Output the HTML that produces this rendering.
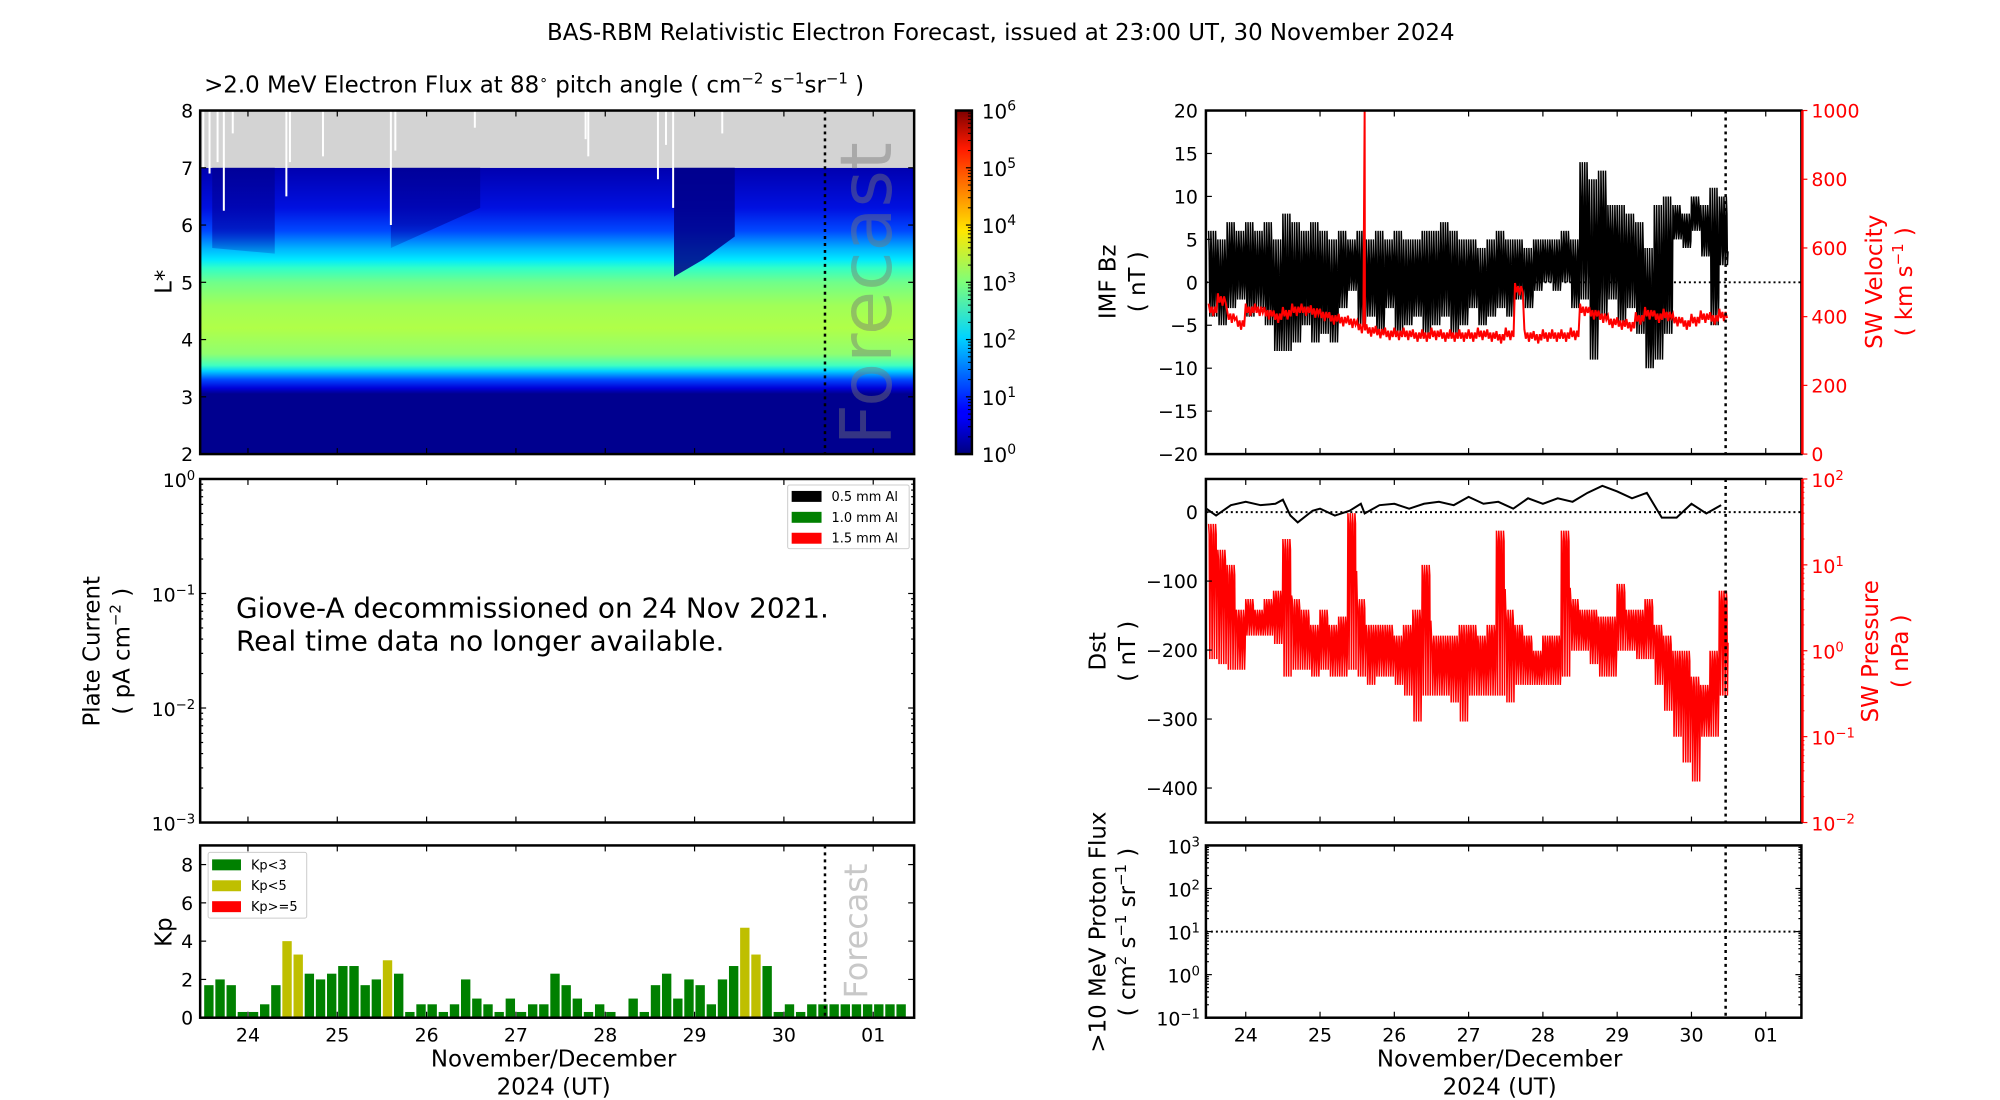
<!DOCTYPE html>
<html><head><meta charset="utf-8">
<style>
html,body{margin:0;padding:0;background:#fff;}
svg{display:block;font-family:"DejaVu Sans","Liberation Sans",sans-serif;}
</style></head>
<body>
<svg id="chart" xmlns="http://www.w3.org/2000/svg" width="2000" height="1100" viewBox="0 0 2000 1100">
<defs>
<linearGradient id="jet" x1="0" y1="1" x2="0" y2="0">
<stop offset="0" stop-color="#00007f"/><stop offset="0.11" stop-color="#0000ff"/>
<stop offset="0.125" stop-color="#0000ff"/><stop offset="0.34" stop-color="#00d4ff"/>
<stop offset="0.5" stop-color="#7dff7a"/><stop offset="0.65" stop-color="#ffe600"/>
<stop offset="0.89" stop-color="#ff1a00"/><stop offset="1" stop-color="#7f0000"/>
</linearGradient>
<clipPath id="clipHeat"><rect x="201" y="111" width="717" height="345"/></clipPath>
<clipPath id="clipBz"><rect x="1211" y="111" width="598" height="345"/></clipPath>
<clipPath id="clipDst"><rect x="1211" y="481" width="598" height="345"/></clipPath>
</defs>
<g transform="scale(0.9958)">
<text x="1005" y="40" font-size="23" text-anchor="middle">BAS-RBM Relativistic Electron Forecast, issued at 23:00 UT, 30 November 2024</text>
<text x="205" y="93" font-size="23">&gt;2.0 MeV Electron Flux at 88<tspan baseline-shift="super" font-size="14">∘</tspan> pitch angle ( cm<tspan baseline-shift="super" font-size="15">−2</tspan> s<tspan baseline-shift="super" font-size="15">−1</tspan>sr<tspan baseline-shift="super" font-size="15">−1</tspan> )</text>
<g id="g"></g>
</g>
</svg>
<script>
// ---------- data ----------
const kpValues=[1.7,2.0,1.7,0.3,0.3,0.7,1.7,4.0,3.3,2.3,2.0,2.3,2.7,2.7,1.7,2.0,3.0,2.3,0.3,0.7,0.7,0.3,0.7,2.0,1.0,0.7,0.3,1.0,0.3,0.7,0.7,2.3,1.7,1.0,0.3,0.7,0.3,0,1.0,0.3,1.7,2.3,1.0,2.0,1.7,0.7,2.0,2.7,4.7,3.3,2.7,0.3,0.7,0.3,0.7,0.7,0.7,0.7,0.7,0.7,0.7,0.7,0.7];
const kpStartDay=23.5;
const dayTicks=[24,25,26,27,28,29,30,31];
const dayTickLabels=["24","25","26","27","28","29","30","01"];
const forecastDay=30.46;
const slotStart=23.5;
const bzHi=[6,5,7,6, 7,6,7,5,8,7,6,7, 6,5,6,5,6,5,6,5, 6,5,5,6,6,7,6,5, 5,4,5,6,5,5,4,5, 5,5,6,5,14,12,13,9, 9,8,7,4,9,10,9,8, 10,9,11,10];
const bzLo=[-4,-5,-3,-2, -4,-3,-5,-8,-8,-7,-5,-7, -6,-7,-3,-1,-5,-4,-6,-3, -6,-5,-4,-6,-5,-4,-6,-5, -3,-5,-4,-3,-4,-2,-3,-1, 0,-1,0,-3,-2,-9,-4,-2, -5,-3,-6,-10,-9,-6,5,4, 6,3,-5,2];
const velMid=[420,450,400,380, 420,420,410,400,410,420,420,415, 405,395,390,385,370,360,355,350, 350,350,345,345,350,345,345,345, 345,350,345,340,350,480,345,340, 345,345,345,350,420,410,400,385, 380,375,395,410,400,405,390,380, 390,400,395,405];
const velSpikeDay=25.6, velSpikeVal=1000;
const dstDays=[23.47,23.6,23.8,24.0,24.2,24.4,24.5,24.6,24.7,24.9,25.0,25.2,25.4,25.55,25.6,25.8,26.0,26.2,26.4,26.6,26.8,27.0,27.2,27.4,27.6,27.8,28.0,28.2,28.4,28.6,28.8,29.0,29.2,29.4,29.6,29.8,30.0,30.2,30.4];
const dstVals=[5,-5,10,15,10,12,18,-5,-15,2,5,-5,2,12,-2,10,12,5,12,15,10,22,12,15,5,20,12,20,15,28,38,30,20,28,-8,-8,12,-2,10];
const presHi=[30,15,10,3, 4,3,4,5,20,4,3,2, 3,2,2.5,40,4,2,2,2, 1.5,2,3,10,1.5,1.5,1.5,2, 2,1.5,2,25,3,2,1.5,1, 1.5,1.5,25,4,3,3,2.5,2.5, 6,3,3,4,2,1.5,1,1, 0.5,0.4,1,5];
const presLo=[0.8,0.7,0.6,0.6, 1.5,1.5,1.5,1.2,0.5,0.6,0.6,0.5, 0.6,0.5,0.5,0.6,0.5,0.4,0.5,0.5, 0.4,0.3,0.15,0.3,0.3,0.3,0.25,0.15, 0.3,0.3,0.3,0.3,0.25,0.4,0.4,0.4, 0.4,0.4,0.5,1,1,0.7,0.5,0.5, 1,1,0.8,0.8,0.4,0.2,0.1,0.05, 0.03,0.1,0.1,0.3];
const streakDays=[23.5,23.57,23.66,23.73,23.83,24.43,24.47,24.84,25.6,25.65,26.54,27.78,27.81,28.59,28.68,28.76,29.31];
const streakBottomL=[7.0,6.9,7.1,6.25,7.6,6.5,7.1,7.2,6.0,7.3,7.7,7.5,7.2,6.8,7.4,6.3,7.6];

// ---------- axis functions ----------
const xL=d=>249+(d-24)*89.7;
const xR=d=>1251+(d-24)*74.6;
const yL=L=>111+(8-L)/6*345;
const yBz=v=>111+(20-v)/40*345;
const yVel=v=>456-v/1000*345;
const yDst=v=>481+(48-v)/498*345;
const yPres=p=>481+(2-Math.log10(p))/4*345;
const yKp=v=>1022-v/9*173;
const yProt=p=>849+(3-Math.log10(p))/4*173;
const yPlate=p=>481+(0-Math.log10(p))/3*345;
const yCb=e=>456-e/6*345;

const NS="http://www.w3.org/2000/svg";
const root=document.getElementById('g');
function mk(tag,attrs,parent){const e=document.createElementNS(NS,tag);for(const k in attrs)e.setAttribute(k,attrs[k]);(parent||root).appendChild(e);return e;}
function txt(x,y,s,size,anchor,fill,parent){const t=mk('text',{x:x,y:y,'font-size':size,'text-anchor':anchor||'middle',fill:fill||'#000'},parent);t.textContent=s;return t;}
function pow10(x,y,exp,size,anchor,fill){const t=mk('text',{x:x,y:y,'font-size':size,'text-anchor':anchor,fill:fill||'#000'});t.appendChild(document.createTextNode('10'));const s=document.createElementNS(NS,'tspan');s.setAttribute('baseline-shift','super');s.setAttribute('font-size',size*0.7);s.textContent=exp;t.appendChild(s);return t;}

// ---------- heatmap ----------
const hg=mk('g',{'clip-path':'url(#clipHeat)'});


const heatStops=[[2,'#00008f'],[3.05,'#00008f'],[3.15,'#0000d8'],[3.3,'#0048ff'],[3.45,'#00d0ff'],[3.55,'#40ffc0'],[3.75,'#90ff70'],[4.2,'#b0ff48'],[4.6,'#a0ff58'],[5.0,'#70ff8a'],[5.25,'#30ffc8'],[5.4,'#00e8ff'],[5.6,'#00b0ff'],[5.9,'#0048ff'],[6.3,'#0010e0'],[7.0,'#0000b0']];
const defs=document.querySelector('defs');
const lg=mk('linearGradient',{id:'heatGrad',x1:0,y1:yL(2),x2:0,y2:yL(7),gradientUnits:'userSpaceOnUse'},defs);
heatStops.forEach(s=>mk('stop',{offset:(s[0]-2)/5,'stop-color':s[1]},lg));
const pg=mk('linearGradient',{id:'pocketGrad',x1:0,y1:1,x2:0,y2:0},defs);
mk('stop',{offset:0,'stop-color':'#0000a0','stop-opacity':0.2},pg);
mk('stop',{offset:0.3,'stop-color':'#0000a0','stop-opacity':0.6},pg);
mk('stop',{offset:1,'stop-color':'#000090','stop-opacity':0.7},pg);
mk('rect',{x:201,y:yL(7),width:717,height:yL(2)-yL(7),fill:'url(#heatGrad)'},hg);
mk('rect',{x:201,y:yL(8),width:717,height:yL(7)-yL(8),fill:'#d3d3d3'},hg);
const pockets=[[[23.6,5.6],[24.3,5.5],[24.3,7],[23.6,7]],[[25.6,5.6],[26.6,6.3],[26.6,7],[25.6,7]],[[28.77,5.1],[29.1,5.4],[29.45,5.8],[29.45,7],[28.77,7]]];
pockets.forEach((p,i)=>{const e=mk('polygon',{points:p.map(q=>xL(q[0])+','+yL(q[1])).join(' '),fill:i==2?'#000088':'url(#pocketGrad)',opacity:i==2?0.85:1},hg);

});
streakDays.forEach((d,i)=>{const e=mk('line',{x1:xL(d),x2:xL(d),y1:yL(8),y2:yL(streakBottomL[i]),stroke:'#fff','stroke-width':2},hg);

});
const fc=mk('text',{x:0,y:0,'font-size':72,fill:'#777',opacity:0.45,'text-anchor':'middle',transform:'translate(895,295) rotate(-90)'});
fc.textContent='Forecast';



// ---------- generic axes ----------
function frame(x0,y0,x1,y1,name){const r=mk('rect',{x:x0,y:y0,width:x1-x0,height:y1-y0,fill:'none',stroke:'#000','stroke-width':2.5});}
function xticks(xf,y0,y1,labels){dayTicks.forEach((d,i)=>{mk('line',{x1:xf(d),x2:xf(d),y1:y1,y2:y1-6,stroke:'#000','stroke-width':1.2});mk('line',{x1:xf(d),x2:xf(d),y1:y0,y2:y0+6,stroke:'#000','stroke-width':1.2});
if(labels){const t=txt(xf(d),y1+24,dayTickLabels[i],19);}});}
function vdot(x,y0,y1){const l=mk('line',{x1:x,x2:x,y1:y0,y2:y1,stroke:'#000','stroke-width':2.5,'stroke-dasharray':'3,4'});}
function ytick(x0,x1,y,len,side){mk('line',{x1:x0,x2:x0+len,y1:y,y2:y,stroke:'#000','stroke-width':1.2});mk('line',{x1:x1,x2:x1-len,y1:y,y2:y,stroke:side||'#000','stroke-width':1.2});}
function logMinor(x0,x1,yf,e0,e1,col){for(let e=e0;e<e1;e++)for(let m=2;m<10;m++){const y=yf(m*Math.pow(10,e));ytick(x0,x1,y,3,col);}}
function rlabel(x,y,lines,size,fill,name){const g=mk('g',{transform:`translate(${x},${y}) rotate(-90)`});
lines.forEach((s,i)=>{const t=mk('text',{x:0,y:i*30,'font-size':size,'text-anchor':'middle',fill:fill||'#000'},g);t.innerHTML=s;});}

// heat axes
[2,3,4,5,6,7,8].forEach(L=>{ytick(201,918,yL(L),6);const t=txt(194,yL(L)+7,String(L),19,'end');});
xticks(xL,111,456,false);vdot(xL(forecastDay),111,456);frame(201,111,918,456,'heatmap-axes');
rlabel(172,283,['L*'],23,null,'l-star-axis-title');
// colorbar
const cb=mk('rect',{x:960,y:111,width:16,height:345,fill:'url(#jet)',stroke:'#000','stroke-width':2.5});


for(let e=0;e<=6;e++){mk('line',{x1:976,x2:970,y1:yCb(e),y2:yCb(e),stroke:'#000','stroke-width':1.2});const t=pow10(986,yCb(e)+8,String(e),20,'start');
if(e<6)for(let m=2;m<10;m++){const y=yCb(e+Math.log10(m));mk('line',{x1:976,x2:972,y1:y,y2:y,stroke:'#000','stroke-width':1});}}

// plate current
for(let e=-3;e<=0;e++){ytick(201,918,yPlate(Math.pow(10,e)),6);const t=pow10(196,yPlate(Math.pow(10,e))+8,e<0?'−'+(-e):'0',19,'end');}
logMinor(201,918,yPlate,-3,0);
xticks(xL,481,826,false);frame(201,481,918,826,'plate-current-axes');
rlabel(100,654,['Plate Current','( pA cm<tspan baseline-shift="super" font-size="15">−2</tspan> )'],23,null,'plate-current-axis-title');
const msg=mk('text',{x:237,y:620,'font-size':28});


msg.innerHTML='<tspan x="237" dy="0">Giove-A decommissioned on 24 Nov 2021.</tspan><tspan x="237" dy="33">Real time data no longer available.</tspan>';
const pl=mk('g',{});
mk('rect',{x:791,y:487,width:122,height:64,fill:'#fff',stroke:'#ccc',rx:2},pl);
[['#000','0.5 mm Al'],['#008000','1.0 mm Al'],['#ff0000','1.5 mm Al']].forEach((c,i)=>{mk('rect',{x:795,y:493+i*21,width:30,height:11,fill:c[0]},pl);const t=txt(835,503+i*21,c[1],13,'start',null,pl);});

// kp
[0,2,4,6,8].forEach(v=>{ytick(201,918,yKp(v),6);const t=txt(194,yKp(v)+7,String(v),19,'end');});
kpValues.forEach((v,i)=>{const d=kpStartDay+i*0.125;const x0=xL(d+0.01),x1=xL(d+0.115);const b=mk('rect',{x:x0,y:yKp(v),width:x1-x0,height:yKp(0)-yKp(v),fill:v>=5?'#ff0000':(v>=3?'#bfbf00':'#008000')});

});
const kf=mk('text',{x:0,y:0,'font-size':32,fill:'#c8c8c8','text-anchor':'middle',transform:`translate(${xL(forecastDay)+42},935) rotate(-90)`});
kf.textContent='Forecast';


xticks(xL,849,1022,true);vdot(xL(forecastDay),849,1022);frame(201,849,918,1022,'kp-axes');
rlabel(172,936,['Kp'],23,null,'kp-axis-title');
const kl=mk('g',{});
mk('rect',{x:209,y:856,width:99,height:66,fill:'#fff',stroke:'#ccc',rx:2},kl);
[['#008000','Kp<3'],['#bfbf00','Kp<5'],['#ff0000','Kp>=5']].forEach((c,i)=>{mk('rect',{x:213,y:863+i*21,width:29,height:11,fill:c[0]},kl);const t=txt(252,873+i*21,c[1],13,'start',null,kl);});
const xl1=mk('text',{x:556,y:1071,'font-size':23,'text-anchor':'middle'});xl1.innerHTML='<tspan x="556">November/December</tspan><tspan x="556" dy="28">2024 (UT)</tspan>';



// ---------- Bz / velocity ----------
function band(hi,lo,xf,yf,sub){const pts=[];hi.forEach((h,i)=>{const d=slotStart+i*0.125;const l=lo[i];for(let k=0;k<sub;k++){const dd=d+k*0.125/sub;const f=(k%4==0)?h:(k%4==2)?l:(h+l)/2+((k%4==1)?(h-l)*0.25:-(h-l)*0.3);pts.push(xf(dd).toFixed(1)+','+yf(f).toFixed(1));}});return pts.join(' ');}
const bzg=mk('g',{'clip-path':'url(#clipBz)'});
mk('line',{x1:1211,x2:1809,y1:yBz(0),y2:yBz(0),stroke:'#000','stroke-width':2,'stroke-dasharray':'2,3'},bzg);
const bzl=mk('polyline',{points:band(bzHi,bzLo,xR,yBz,16),fill:'none',stroke:'#000','stroke-width':1.5},bzg);


const vpts=[];velMid.forEach((v,i)=>{for(let k=0;k<6;k++){const d=slotStart+i*0.125+k*0.125/6;const dv=(k%2?-1:1)*(k%3==0?18:9);vpts.push([d,v+dv]);}
if(Math.abs(slotStart+i*0.125-velSpikeDay)<0.0625){vpts.push([velSpikeDay,velSpikeVal]);vpts.push([velSpikeDay+0.005,v]);}});
vpts.sort((a,b)=>a[0]-b[0]);
const vl=mk('polyline',{points:vpts.map(p=>xR(p[0]).toFixed(1)+','+yVel(p[1]).toFixed(1)).join(' '),fill:'none',stroke:'#ff0000','stroke-width':2},bzg);


[-20,-15,-10,-5,0,5,10,15,20].forEach(v=>{mk('line',{x1:1211,x2:1217,y1:yBz(v),y2:yBz(v),stroke:'#000','stroke-width':1.2});const t=txt(1203,yBz(v)+7,String(v).replace('-','−'),19,'end');});
[0,200,400,600,800,1000].forEach(v=>{mk('line',{x1:1809,x2:1815,y1:yVel(v),y2:yVel(v),stroke:'#ff0000','stroke-width':1.2});const t=txt(1819,yVel(v)+7,String(v),19,'start','#ff0000');});
xticks(xR,111,456,false);vdot(xR(forecastDay),111,456);frame(1211,111,1809,456,'bz-axes');
mk('line',{x1:1810,x2:1810,y1:111,y2:456,stroke:'#ff0000','stroke-width':2.5});
rlabel(1120,283,['IMF Bz','( nT )'],23,null,'bz-axis-title');
rlabel(1890,283,['SW Velocity','( km s<tspan baseline-shift="super" font-size="15">−1</tspan> )'],23,'#ff0000','velocity-axis-title');

// ---------- Dst / pressure ----------
const dg=mk('g',{'clip-path':'url(#clipDst)'});
mk('line',{x1:1211,x2:1809,y1:yDst(0),y2:yDst(0),stroke:'#000','stroke-width':2,'stroke-dasharray':'2,3'},dg);
const pl2=mk('polyline',{points:band(presHi,presLo,xR,yPres,16),fill:'none',stroke:'#ff0000','stroke-width':1.5},dg);


const dl=mk('polyline',{points:dstDays.map((d,i)=>xR(d).toFixed(1)+','+yDst(dstVals[i]).toFixed(1)).join(' '),fill:'none',stroke:'#000','stroke-width':2},dg);


[-400,-300,-200,-100,0].forEach(v=>{mk('line',{x1:1211,x2:1217,y1:yDst(v),y2:yDst(v),stroke:'#000','stroke-width':1.2});const t=txt(1203,yDst(v)+7,String(v).replace('-','−'),19,'end');});
for(let e=-2;e<=2;e++){const y=yPres(Math.pow(10,e));mk('line',{x1:1809,x2:1815,y1:y,y2:y,stroke:'#ff0000','stroke-width':1.2});const t=pow10(1819,y+8,e<0?'−'+(-e):String(e),19,'start','#ff0000');
if(e<2)for(let m=2;m<10;m++){const yy=yPres(m*Math.pow(10,e));mk('line',{x1:1809,x2:1812,y1:yy,y2:yy,stroke:'#ff0000','stroke-width':1});}}
xticks(xR,481,826,false);vdot(xR(forecastDay),481,826);frame(1211,481,1809,826,'dst-axes');
mk('line',{x1:1810,x2:1810,y1:481,y2:826,stroke:'#ff0000','stroke-width':2.5});
rlabel(1110,654,['Dst','( nT )'],23,null,'dst-axis-title');
rlabel(1886,654,['SW Pressure','( nPa )'],23,'#ff0000','pressure-axis-title');

// ---------- proton ----------
for(let e=-1;e<=3;e++){ytick(1211,1809,yProt(Math.pow(10,e)),6);const t=pow10(1205,yProt(Math.pow(10,e))+8,e<0?'−1':String(e),19,'end');}
logMinor(1211,1809,yProt,-1,3);
const thr=mk('line',{x1:1211,x2:1809,y1:yProt(10),y2:yProt(10),stroke:'#000','stroke-width':2,'stroke-dasharray':'2,3'});


xticks(xR,849,1022,true);vdot(xR(forecastDay),849,1022);frame(1211,849,1809,1022,'proton-axes');
rlabel(1110,936,['&gt;10 MeV Proton Flux','( cm<tspan baseline-shift="super" font-size="15">2</tspan> s<tspan baseline-shift="super" font-size="15">−1</tspan> sr<tspan baseline-shift="super" font-size="15">−1</tspan> )'],23,null,'proton-axis-title');
const xl2=mk('text',{x:1506,y:1071,'font-size':23,'text-anchor':'middle'});xl2.innerHTML='<tspan x="1506">November/December</tspan><tspan x="1506" dy="28">2024 (UT)</tspan>';


</script>
</body></html>
